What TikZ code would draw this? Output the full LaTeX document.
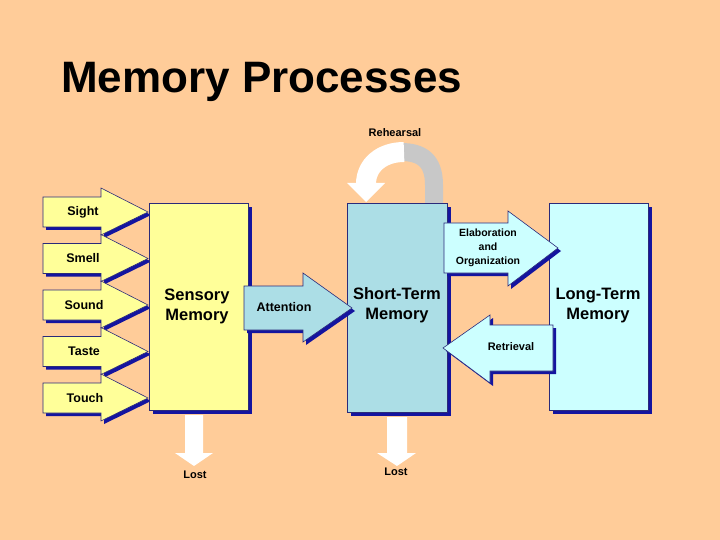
\documentclass[tikz,border=0pt]{standalone}
\usepackage{fontspec}
\setmainfont{Liberation Sans}
\definecolor{bg}{HTML}{FFCC99}
\definecolor{yel}{HTML}{FFFF99}
\definecolor{stm}{HTML}{ACDEE6}
\definecolor{ltm}{HTML}{CCFFFF}
\definecolor{sh}{HTML}{14149F}
\definecolor{edge}{HTML}{2A2A7A}
\definecolor{ribbon}{HTML}{C8C8C8}
\tikzset{
  box/.style={draw=edge, line width=0.6pt, anchor=north west, align=center, inner sep=0pt,
    font=\fontsize{16.5}{20}\selectfont\bfseries},
  lbl/.style={font=\fontsize{12.5}{15}\selectfont\bfseries, inner sep=0pt},
  small/.style={font=\fontsize{11}{14}\selectfont\bfseries, inner sep=0pt, align=center},
  blk/.style={draw=edge, line width=0.6pt},
}
% right-pointing block arrow: xl, xbase, xtip, yc, body half, head up, head down, fill
\newcommand\arrR[8]{%
  \fill[sh,shift={(3,3)}] (#1,{#4-#5}) -- (#2,{#4-#5}) -- (#2,{#4-#6}) -- (#3,#4) -- (#2,{#4+#7}) -- (#2,{#4+#5}) -- (#1,{#4+#5}) -- cycle;
  \filldraw[blk,fill=#8] (#1,{#4-#5}) -- (#2,{#4-#5}) -- (#2,{#4-#6}) -- (#3,#4) -- (#2,{#4+#7}) -- (#2,{#4+#5}) -- (#1,{#4+#5}) -- cycle;}
\begin{document}
\begin{tikzpicture}[x=1pt,y=-1pt]
\useasboundingbox[fill=bg] (0,0) rectangle (720,540);

\node[anchor=base west, inner sep=0pt, font=\fontsize{44}{50}\selectfont\bfseries] (title) at (61,93) {Memory Processes};

% sensory input arrows
\arrR{43}{101}{148}{212}{15}{24}{23}{yel}
\arrR{43}{101}{148}{258.5}{15}{24}{23}{yel}
\arrR{43}{101}{148}{305}{15}{24}{23}{yel}
\arrR{43}{101}{148}{351.5}{15}{24}{23}{yel}
\arrR{43}{101}{148}{398}{15}{24}{23}{yel}
\node[lbl] (sight) at (83,212) {Sight};
\node[lbl] (smell) at (83,258.5) {Smell};
\node[lbl] (sound) at (84,305) {Sound};
\node[lbl] (taste) at (84,351.5) {Taste};
\node[lbl] (touch) at (85,398) {Touch};

% boxes with shadows
\fill[sh] (153,207) rectangle (252,414);
\node[box, fill=yel, minimum width=99pt, minimum height=207pt] (sm) at (149,203) {};
\node[box, draw=none, anchor=center] (smt) at (197,306) {Sensory\\Memory};
\fill[sh] (351,207) rectangle (451,416);
\node[box, fill=stm, minimum width=100pt, minimum height=209pt] (st) at (347,203) {};
\node[box, draw=none, anchor=center] (stt) at (397,305) {Short-Term\\Memory};
\fill[sh] (553,207) rectangle (652,414);
\node[box, fill=ltm, minimum width=99pt, minimum height=207pt] (lt) at (549,203) {};
\node[box, draw=none, anchor=center] (ltt) at (598,306) {Long-Term\\Memory};

% attention
\arrR{244}{303}{352}{308}{22}{35}{34}{stm}
\node[lbl] (att) at (284,307) {Attention};

% elaboration
\arrR{444}{508}{558}{248}{25}{37}{38}{ltm}
\node[small, font=\fontsize{10.5}{14}\selectfont\bfseries] (elab) at (488,248) {Elaboration\\and\\Organization};

% retrieval (left-pointing)
\fill[sh,shift={(3,3)}] (553,325) -- (490,325) -- (490,315) -- (443,348) -- (490,383) -- (490,371) -- (553,371) -- cycle;
\filldraw[blk,fill=ltm] (553,325) -- (490,325) -- (490,315) -- (443,348) -- (490,383) -- (490,371) -- (553,371) -- cycle;
\node[small] (retr) at (511,347) {Retrieval};

% lost arrows
\coordinate (lost1) at (194,466);
\coordinate (lost2) at (397,466);
\fill[white] (185,415) -- (203,415) -- (203,453) -- (213,453) -- (lost1) -- (175,453) -- (185,453) -- cycle;
\fill[white] (387,417) -- (407,417) -- (407,453) -- (416,453) -- (lost2) -- (377,453) -- (387,453) -- cycle;
\node[small] (l1) at (195,475) {Lost};
\node[small] (l2) at (396,472) {Lost};

% rehearsal
\draw[ribbon, line width=18pt] (434,203) -- (434,185) .. controls (434,160) and (421,152) .. (401,152);
\draw[white, line width=20pt] (404,152) .. controls (382,152) and (366,165) .. (366,184);
\fill[white] (347,183) -- (385,183) -- (366,202) -- cycle;
\node[small] (reh) at (395,133) {Rehearsal};
\end{tikzpicture}
\end{document}
